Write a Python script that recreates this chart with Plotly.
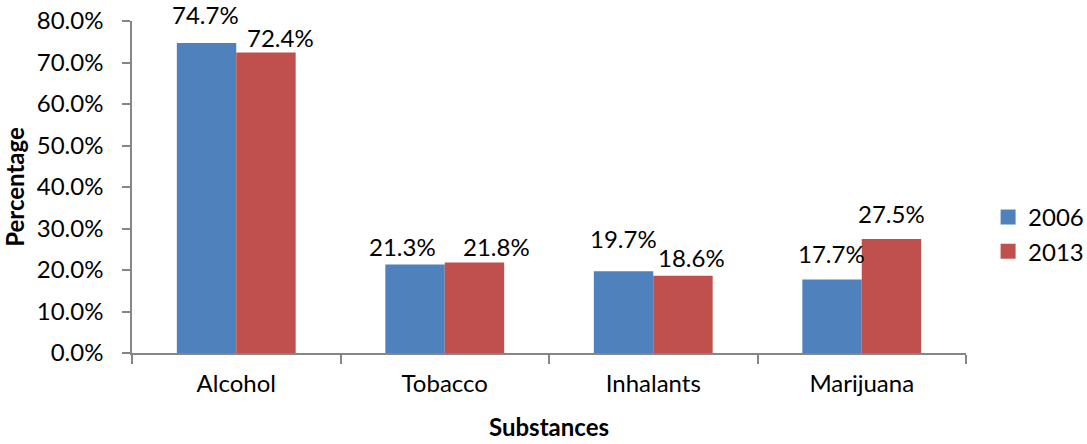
import plotly.graph_objects as go

substances = ["Alcohol", "Tobacco", "Inhalants", "Marijuana"]
pct_2006 = [74.7, 21.3, 19.7, 17.7]
pct_2013 = [72.4, 21.8, 18.6, 27.5]
y_ticks = [0, 10, 20, 30, 40, 50, 60, 70, 80]

FONT = "Lato, 'Open Sans', sans-serif"
SIZE = 24
AXIS_GREY = "#868686"

# per-label nudges in pixels (dx from bar centre, dy above bar top) so that
# neighbouring value labels do not collide
nudge_2006 = [(-1, 28), (-12, 18), (0, 33), (0, 26)]
nudge_2013 = [(14, 15), (22, 16), (8, 18), (0, 25)]

series = [
    ("2006", pct_2006, "#4F81BD", -30, nudge_2006),
    ("2013", pct_2013, "#C0504D", 30, nudge_2013),
]

fig = go.Figure()
for name, vals, colour, _, _ in series:
    fig.add_trace(go.Bar(
        x=substances, y=vals, name=name, showlegend=False,
        marker=dict(color=colour, line=dict(width=0)),
    ))
    # legend swatch: a plain square key for the series
    fig.add_trace(go.Scatter(
        x=[None], y=[None], name=name, legendgroup=name, mode="markers",
        marker=dict(symbol="square", size=15, color=colour),
    ))

# value labels above each bar
for name, vals, colour, offset, nudges in series:
    for cat, v, (dx, dy) in zip(substances, vals, nudges):
        fig.add_annotation(
            x=cat, y=v, text=f"{v:.1f}%", showarrow=False,
            xshift=offset + dx, yshift=dy, yanchor="middle",
            font=dict(family=FONT, size=SIZE, color="#000000"),
        )

fig.update_layout(
    width=1087, height=444,
    margin=dict(l=132, r=121, t=21, b=91, autoexpand=False),
    paper_bgcolor="white", plot_bgcolor="white",
    barmode="group", bargap=0.43, bargroupgap=0,
    font=dict(family=FONT, size=SIZE, color="#000000"),
    legend=dict(
        xref="container", yref="container",
        x=0.909, xanchor="left", y=0.472, yanchor="middle",
        font=dict(family=FONT, size=SIZE), itemwidth=30,
        tracegroupgap=26, traceorder="normal",
    ),
    xaxis=dict(
        type="category", tickson="boundaries",
        ticks="outside", ticklen=9, tickcolor=AXIS_GREY, tickwidth=1.5,
        showline=True, linecolor=AXIS_GREY, linewidth=1.5,
        showgrid=False, ticklabelstandoff=8,
        tickfont=dict(family=FONT, size=SIZE),
        title=dict(text="<b>Substances</b>", font=dict(family=FONT, size=SIZE), standoff=24),
    ),
    yaxis=dict(
        range=[0, 80], tickvals=y_ticks,
        ticktext=[f"{v:.1f}%" for v in y_ticks],
        ticks="outside", ticklen=8, tickcolor=AXIS_GREY, tickwidth=1.5,
        showline=True, linecolor=AXIS_GREY, linewidth=1.5,
        showgrid=False, zeroline=False, ticklabelstandoff=14,
        tickfont=dict(family=FONT, size=SIZE),
        title=dict(text="<b>Percentage</b>", font=dict(family=FONT, size=SIZE), standoff=9),
    ),
)

fig.write_html("out.html")
